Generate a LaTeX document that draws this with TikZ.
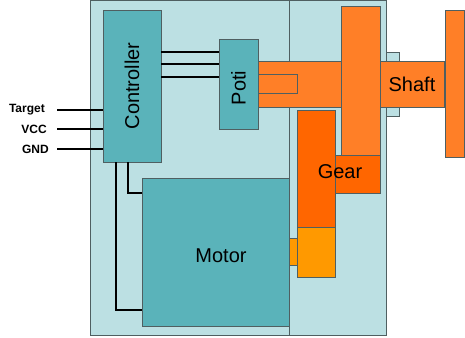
\documentclass[tikz,border=0pt]{standalone}
\usepackage{fontspec}
\setmainfont{Liberation Sans}
\usetikzlibrary{positioning}

\definecolor{housingblue}{HTML}{BCE0E3}
\definecolor{tealbox}{HTML}{5AB3BA}
\definecolor{shaftorange}{HTML}{FF7F27}
\definecolor{gearorange}{HTML}{FF6600}
\definecolor{pinionorange}{HTML}{FF9900}
\definecolor{edgegray}{HTML}{4F5F61}

\begin{document}
\begin{tikzpicture}[
  x=1pt, y=-1pt,
  part/.style={
    rectangle,
    draw=edgegray,
    line width=0.8pt,
    inner sep=0pt
  },
  housing/.style={part, fill=housingblue},
  block/.style={part, fill=tealbox},
  shaftpart/.style={part, fill=shaftorange},
  wire/.style={line width=1.6pt, draw=black},
  biglabel/.style={font=\fontsize{20}{24}\selectfont},
  pinlabel/.style={font=\fontsize{12}{14}\selectfont\bfseries, anchor=east, inner sep=0pt}
]
  \useasboundingbox (0,0) rectangle (465,337);

  % housing
  \node[housing, minimum width=199pt, minimum height=335pt] (housingl) at (189.5,167.5) {};
  \node[housing, minimum width=97pt, minimum height=335pt] (housingr) at (337.5,167.5) {};
  \node[housing, minimum width=13pt, minimum height=64pt] (bearing) at (392.5,84) {};

  % shaft and gears
  \node[shaftpart, minimum width=186pt, minimum height=46pt] (shaft) at (351,84) {};
  \node[shaftpart, minimum width=39pt, minimum height=19pt] (slot) at (277.5,83.5) {};
  \node[shaftpart, minimum width=39pt, minimum height=149pt] (wheel) at (360.5,80.5) {};
  \node[part, fill=gearorange, minimum width=45pt, minimum height=38pt] (gearhub) at (357.5,174) {};
  \node[part, fill=gearorange, minimum width=38pt, minimum height=117pt] (gear) at (316,168.5) {};
  \node[part, fill=pinionorange, minimum width=38pt, minimum height=50pt] (pinion) at (316,252) {};
  \node[part, fill=pinionorange, minimum width=8pt, minimum height=27pt] (motorstub) at (293,251.5) {};
  \node[shaftpart, minimum width=19pt, minimum height=147pt] (endcap) at (454.5,83.5) {};
  \node[biglabel] (gearlabel) at (340,172) {Gear};
  \node[biglabel] (shaftlabel) at (412,84) {Shaft};

  % electronics
  \node[block, minimum width=147pt, minimum height=148pt,
    label={[biglabel, xshift=5.5pt, yshift=-4pt]center:Motor}] (motor) at (215.5,252) {};
  \node[block, minimum width=58pt, minimum height=152pt,
    label={[biglabel, rotate=90]center:Controller}] (ctrl) at (132,86) {};
  \node[block, minimum width=39pt, minimum height=90pt,
    label={[biglabel, rotate=90, xshift=-4pt]center:Poti}] (poti) at (238.5,84) {};

  \node[pinlabel] (target) at (45,110) {Target};
  \node[pinlabel] (vcc) at (47,129) {VCC};
  \node[pinlabel] (gnd) at (49,149) {GND};

  % wiring
  \foreach \n in {target,vcc,gnd}
    \draw[wire] (57,0 |- \n) -- (ctrl.west |- \n);
  \foreach \y in {52,64,77}
    \draw[wire] (ctrl.east |- 0,\y) -- (poti.west |- 0,\y);
  \draw[wire] (ctrl.south -| 128,0) |- (motor.west |- 0,193);
  \draw[wire] (ctrl.south -| 116,0) |- (motor.west |- 0,310);
\end{tikzpicture}
\end{document}
